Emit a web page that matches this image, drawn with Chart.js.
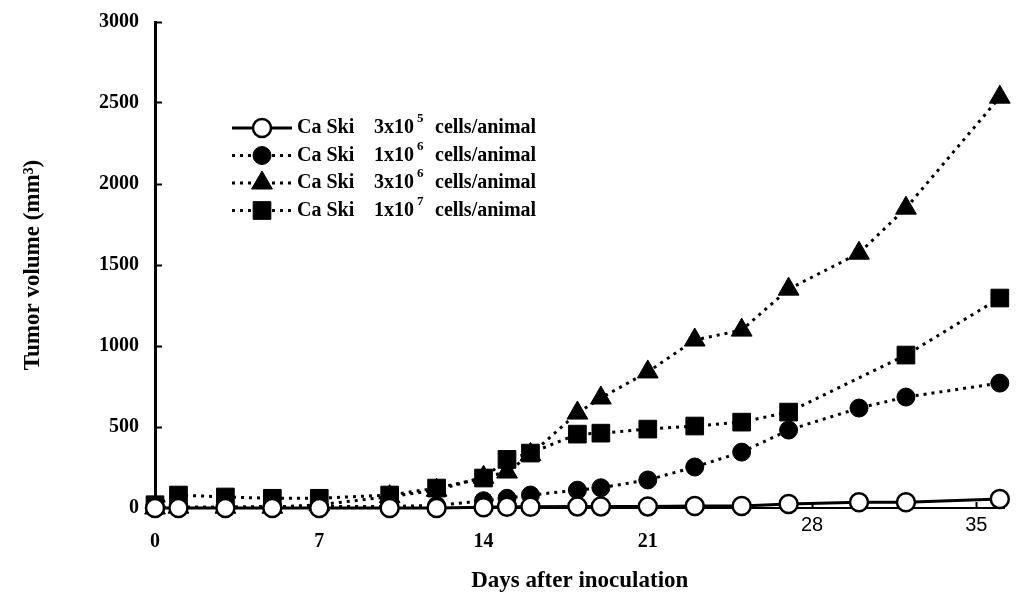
<!DOCTYPE html>
<html>
<head>
<meta charset="utf-8">
<script src="https://cdn.jsdelivr.net/npm/chart.js@4.4.0/dist/chart.umd.min.js"></script>
<style>
  html, body { margin: 0; padding: 0; background: #fff; }
</style>
</head>
<body>
<canvas id="tumorChart" width="1018" height="595"></canvas>
<script>
// days after inoculation
const days = [0, 1, 3, 5, 7, 10, 12, 14, 15, 16, 18, 19, 21, 23, 25, 27, 30, 32, 36];

// tumor volume (mm3), one array per inoculum
const vol3e5 = [0, 0, 0, 0, 0, 0, 0, 5, 8, 8, 10, 10, 10, 12, 12, 25, 35, 35, 55];
const vol1e6 = [5, 5, 5, 10, 10, 10, 15, 45, 60, 80, 110, 125, 173, 253, 345, 481, 617, 685, 771];
const vol3e6 = [0, 5, 5, 5, 20, 70, 110, 190, 222, 330, 586, 679, 840, 1037, 1098, 1351, 1573, 1851, 2536];
const vol1e7 = [20, 80, 68, 60, 60, 80, 123, 185, 300, 339, 456, 462, 487, 506, 530, 592, null, 944, 1296];

const xTicks = [0, 7, 14, 21, 28, 35];
const yTicks = [0, 500, 1000, 1500, 2000, 2500, 3000];

// legend text
const cellLine = ["Ca Ski", "Ca Ski", "Ca Ski", "Ca Ski"];
const doseBase = ["3x10", "1x10", "3x10", "1x10"];
const doseExp = ["5", "6", "6", "7"];

const serif = "'Liberation Serif', 'Times New Roman', serif";
const narrow = "'Liberation Sans Narrow', 'Liberation Sans', Arial, sans-serif";

function pts(vals) {
  return days.map((d, i) => ({ x: d, y: vals[i] }));
}

// legend drawn by hand: line + marker sample, superscript exponent
const legendPlugin = {
  id: "figLegend",
  afterDraw(chart) {
    const ctx = chart.ctx;
    const x0 = 232, x1 = 292, xm = 262;
    chart.data.datasets.forEach((ds, i) => {
      const y = 128 + i * 27.5;
      ctx.save();
      ctx.strokeStyle = "#000";
      ctx.lineWidth = ds.borderWidth;
      ctx.setLineDash(ds.borderDash || []);
      ctx.beginPath();
      ctx.moveTo(x0, y);
      ctx.lineTo(x1, y);
      ctx.stroke();
      ctx.setLineDash([]);
      ctx.fillStyle = ds.pointBackgroundColor;
      ctx.strokeStyle = "#000";
      ctx.lineWidth = ds.pointBorderWidth;
      Chart.helpers.drawPoint(ctx, {
        pointStyle: ds.pointStyle,
        radius: ds.pointRadius,
        rotation: 0,
        borderWidth: ds.pointBorderWidth
      }, xm, y);

      ctx.fillStyle = "#000";
      ctx.textBaseline = "middle";
      ctx.textAlign = "left";
      ctx.font = "bold 20px " + serif;
      ctx.fillText(cellLine[i], 297, y);
      ctx.fillText(doseBase[i], 374, y);
      const w = ctx.measureText(doseBase[i]).width;
      ctx.font = "bold 13px " + serif;
      ctx.fillText(doseExp[i], 374 + w + 3, y - 9);
      ctx.font = "bold 20px " + serif;
      ctx.fillText("cells/animal", 435, y);
      ctx.restore();
    });
  }
};

new Chart(document.getElementById("tumorChart"), {
  type: "line",
  data: {
    datasets: [
      {
        label: "3x10^5",
        data: pts(vol3e5),
        borderColor: "#000",
        borderWidth: 3,
        pointStyle: "circle",
        pointRadius: 9,
        pointBackgroundColor: "#fff",
        pointBorderColor: "#000",
        pointBorderWidth: 2.5,
        clip: false
      },
      {
        label: "1x10^6",
        data: pts(vol1e6),
        borderColor: "#000",
        borderWidth: 3,
        borderDash: [3, 5],
        pointStyle: "circle",
        pointRadius: 9,
        pointBackgroundColor: "#000",
        pointBorderColor: "#000",
        pointBorderWidth: 1,
        clip: false
      },
      {
        label: "3x10^6",
        data: pts(vol3e6),
        borderColor: "#000",
        borderWidth: 3,
        borderDash: [3, 5],
        pointStyle: "triangle",
        pointRadius: 12,
        pointBackgroundColor: "#000",
        pointBorderColor: "#000",
        pointBorderWidth: 1,
        clip: false
      },
      {
        label: "1x10^7",
        data: pts(vol1e7),
        borderColor: "#000",
        borderWidth: 3,
        borderDash: [3, 5],
        pointStyle: "rect",
        pointRadius: 12.5,
        pointBackgroundColor: "#000",
        pointBorderColor: "#000",
        pointBorderWidth: 1,
        spanGaps: true,
        clip: false
      }
    ]
  },
  options: {
    responsive: false,
    animation: false,
    devicePixelRatio: 1,
    layout: { padding: { top: 22, right: 2, left: 0, bottom: 0 } },
    plugins: { legend: { display: false }, tooltip: { enabled: false } },
    scales: {
      x: {
        type: "linear",
        min: 0,
        max: 36.2,
        afterBuildTicks: s => { s.ticks = xTicks.map(v => ({ value: v })); },
        afterFit: s => { s.height = 87; s.paddingLeft = 0; s.paddingRight = 0; },
        ticks: {
          autoSkip: false,
          maxRotation: 0,
          padding: 11,
          color: "#000",
          callback: v => (v >= 28 ? String(v) : ["", String(v)]),
          font: c => (c.tick && c.tick.value >= 28
            ? { family: narrow, size: 20, weight: "normal", lineHeight: 1.2 }
            : { family: serif, size: 20, weight: "bold", lineHeight: 0.97 })
        },
        grid: { drawOnChartArea: false, drawTicks: true, tickLength: -6, tickWidth: 2, color: "#000" },
        border: { color: "#000", width: 2 },
        title: {
          display: true,
          text: "Days after inoculation",
          color: "#000",
          font: { family: serif, size: 23, weight: "bold" },
          padding: 0
        }
      },
      y: {
        min: 0,
        max: 3000,
        afterBuildTicks: s => { s.ticks = yTicks.map(v => ({ value: v })); },
        afterFit: s => { s.width = 155; s.paddingTop = 0; s.paddingBottom = 0; },
        ticks: {
          padding: 23,
          color: "#000",
          callback: v => String(v),
          font: { family: serif, size: 20, weight: "bold" }
        },
        grid: { drawOnChartArea: false, drawTicks: true, tickLength: -7, tickWidth: 2, color: "#000" },
        border: { color: "#000", width: 3 },
        title: {
          display: true,
          text: "Tumor volume (mm³)",
          color: "#000",
          font: { family: serif, size: 23, weight: "bold" },
          padding: { top: 19, bottom: 0 }
        }
      }
    }
  },
  plugins: [legendPlugin]
});
</script>
</body>
</html>
